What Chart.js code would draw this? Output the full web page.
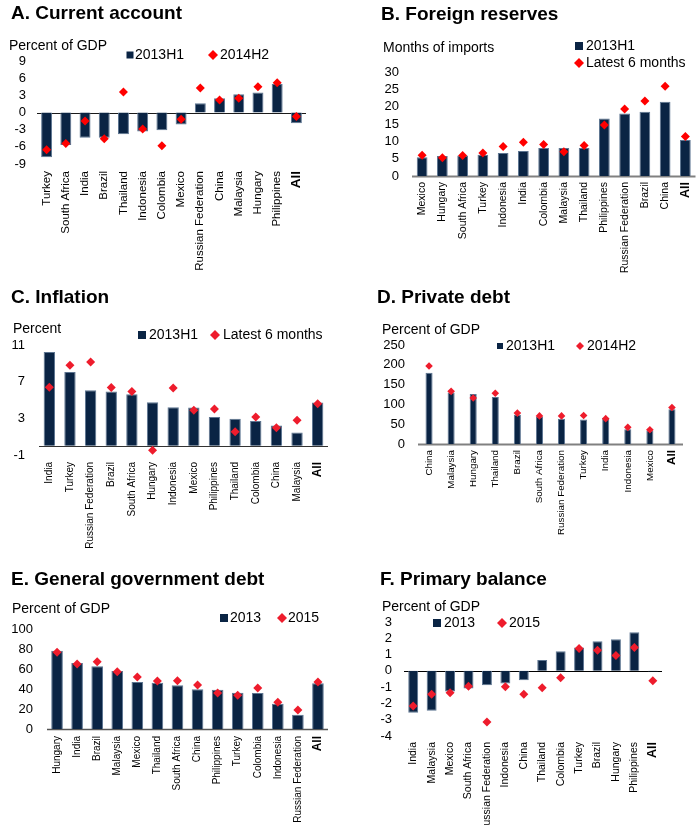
<!DOCTYPE html>
<html><head><meta charset="utf-8">
<script src="https://cdn.jsdelivr.net/npm/chart.js@4.4.1/dist/chart.umd.min.js"></script>
<style>
html,body{margin:0;padding:0;background:#fff;}
#wrap{position:relative;width:700px;height:826px;overflow:hidden;background:#fff;}
#wrap canvas{position:absolute;}
</style></head><body><div id="wrap">
<canvas id="cA" width="350" height="280" style="left:0;top:0"></canvas>
<canvas id="cB" width="350" height="280" style="left:350px;top:0"></canvas>
<canvas id="cC" width="350" height="280" style="left:0;top:280px"></canvas>
<canvas id="cD" width="350" height="280" style="left:350px;top:280px"></canvas>
<canvas id="cE" width="350" height="266" style="left:0;top:560px"></canvas>
<canvas id="cF" width="350" height="266" style="left:350px;top:560px"></canvas>
</div>
<script>
// ---------- DATA ----------
const catsA = ['Turkey','South Africa','India','Brazil','Thailand','Indonesia','Colombia','Mexico','Russian Federation','China','Malaysia','Hungary','Philippines','All'];
const barA  = [-7.8,-5.7,-4.4,-4.4,-3.8,-3.3,-3.1,-2.1,1.6,2.5,3.2,3.5,5.0,-1.9];
const dotA  = [-6.5,-5.4,-1.5,-4.6,3.6,-2.9,-5.8,-1.2,4.3,2.2,2.5,4.5,5.2,-0.7];
const seriesA = ['2013H1','2014H2'];

const catsB = ['Mexico','Hungary','South Africa','Turkey','Indonesia','India','Colombia','Malaysia','Thailand','Philippines','Russian Federation','Brazil','China','All'];
const barB  = [5.4,5.8,5.9,6.1,6.6,7.2,8.1,8.1,8.1,16.6,18.0,18.5,21.4,10.4];
const dotB  = [6.0,5.3,5.9,6.6,8.5,9.7,9.1,7.0,8.8,14.7,19.3,21.6,25.9,11.4];
const seriesB = ['2013H1','Latest 6 months'];

const catsC = ['India','Turkey','Russian Federation','Brazil','South Africa','Hungary','Indonesia','Mexico','Philippines','Thailand','Colombia','China','Malaysia','All'];
const barC  = [10.25,8.05,6.07,5.93,5.63,4.76,4.2,4.17,3.15,2.96,2.7,2.23,1.46,4.72];
const dotC  = [6.4,8.8,9.15,6.37,5.93,-0.48,6.3,3.88,4.02,1.54,3.15,1.98,2.78,4.6];
const seriesC = ['2013H1','Latest 6 months'];

const catsD = ['China','Malaysia','Hungary','Thailand','Brazil','South Africa','Russian Federation','Turkey','India','Indonesia','Mexico','All'];
const barD  = [180,130,126,119,74,69,64,62,66,37,34,88];
const dotD  = [197,133,116,128,78,71,71,72,64,42,36,92];
const seriesD = ['2013H1','2014H2'];

const catsE = ['Hungary','India','Brazil','Malaysia','Mexico','Thailand','South Africa','China','Philippines','Turkey','Colombia','Indonesia','Russian Federation','All'];
const barE  = [78.3,66,62.7,58,47,46.3,43.7,39.7,39.3,36.3,36,25.3,14.3,45.7];
const dotE  = [76.7,65,67.3,57.3,52,48,48.3,44,36,33.7,41,26.7,19,47];
const seriesE = ['2013','2015'];

const catsF = ['India','Malaysia','Mexico','South Africa','Russian Federation','Indonesia','China','Thailand','Colombia','Turkey','Brazil','Hungary','Philippines','All'];
const barF  = [-2.57,-2.45,-1.27,-1.08,-0.88,-0.78,-0.57,0.67,1.2,1.43,1.82,1.94,2.37,-0.04];
const dotF  = [-2.16,-1.43,-1.35,-0.94,-3.14,-0.98,-1.43,-1.04,-0.43,1.37,1.27,0.94,1.43,-0.61];
const seriesF = ['2013','2015'];

// ---------- STYLE ----------
const FONT = '"Liberation Sans", Arial, Helvetica, sans-serif';
const NAVY = '#0a2444';
const NAVY_EDGE = '#5d7591';

const decor = {
  id: 'decor',
  afterDraw(chart, args, o) {
    if (!o || !o.title) return;
    const ctx = chart.ctx;
    ctx.save();
    ctx.fillStyle = '#000';
    ctx.textBaseline = 'middle';
    ctx.textAlign = 'left';
    ctx.font = 'bold 19px ' + FONT;
    ctx.fillText(o.title, o.tx, o.ty);
    ctx.font = '14px ' + FONT;
    ctx.fillText(o.unit, o.ux, o.uy);
    const ds = chart.data.datasets;
    o.legend.forEach((it, i) => {
      const d = ds[i];
      if (d.type === 'line') {
        const r = it.r || 5;
        ctx.fillStyle = d.backgroundColor;
        ctx.beginPath();
        ctx.moveTo(it.x, it.y - r); ctx.lineTo(it.x + r, it.y);
        ctx.lineTo(it.x, it.y + r); ctx.lineTo(it.x - r, it.y);
        ctx.closePath(); ctx.fill();
      } else {
        const s = it.s || 8;
        ctx.fillStyle = NAVY;
        ctx.fillRect(it.x - s / 2, it.y - s / 2, s, s);
      }
      ctx.fillStyle = '#000';
      ctx.font = '14px ' + FONT;
      ctx.fillText(d.label, it.tx, it.y);
    });
    ctx.restore();
  }
};
const zeroLine = {
  id: 'zeroLine',
  beforeDatasetsDraw(chart, args, o) {
    const y = chart.scales.y;
    const a = chart.chartArea;
    const py = Math.round(y.getPixelForValue(0)) + 0.5;
    const ctx = chart.ctx;
    ctx.save();
    ctx.strokeStyle = o.color || '#000';
    ctx.lineWidth = o.width || 1;
    ctx.beginPath();
    ctx.moveTo(a.left, py); ctx.lineTo(a.right, py);
    ctx.stroke();
    ctx.restore();
  }
};

function makePanel(p) {
  const xs = p.xs;
  new Chart(document.getElementById(p.id), {
    data: {
      labels: p.cats,
      datasets: [
        { type: 'bar', label: p.series[0], data: p.bars, backgroundColor: NAVY,
          borderColor: NAVY_EDGE, borderWidth: 1, barPercentage: p.bp, categoryPercentage: 1, order: 2 },
        { type: 'line', label: p.series[1], data: p.dots, showLine: false, pointStyle: 'rectRot',
          pointRadius: p.pr, backgroundColor: p.red, borderColor: p.red, pointBorderWidth: 0, order: 1 }
      ]
    },
    options: {
      responsive: false, animation: false, devicePixelRatio: 1,
      layout: { padding: p.pad },
      plugins: {
        legend: { display: false }, tooltip: { enabled: false }, title: { display: false },
        decor: p.decor,
        zeroLine: { color: p.axisColor, width: p.axisW }
      },
      scales: {
        x: {
          grid: { display: false, drawTicks: false }, border: { display: false },
          ticks: {
            autoSkip: false, minRotation: 90, maxRotation: 90, padding: p.xp, color: '#000',
            font: (c) => (c.tick && c.tick.label === 'All')
              ? { family: FONT, size: xs + 2, weight: 'bold' }
              : { family: FONT, size: xs }
          },
          afterFit: (s) => { s.height = p.xh; s.paddingLeft = 0; s.paddingRight = 0; }
        },
        y: {
          min: p.min, max: p.max,
          grid: { display: false, drawTicks: false }, border: { display: false },
          ticks: { stepSize: p.step, autoSkip: false, padding: p.yp, color: '#000', font: { family: FONT, size: 13 } },
          afterFit: (s) => { s.width = p.yw; s.paddingTop = 0; s.paddingBottom = 0; }
        }
      }
    },
    plugins: [decor, zeroLine]
  });
}

makePanel({ id: 'cA', cats: catsA, bars: barA, dots: dotA, series: seriesA,
  min: -9, max: 9, step: 3, bp: 0.57, pr: 4.5, red: '#ff0000',
  yw: 30, pad: { left: 7, right: 44, top: 61, bottom: 0 }, xh: 116, xp: 7, yp: 11,
  xs: 11.5, axisColor: '#1a1a1a', axisW: 1,
  decor: { title: 'A. Current account', tx: 11, ty: 14, unit: 'Percent of GDP', ux: 9, uy: 46,
    legend: [{ x: 130, y: 55, tx: 135, s: 7 }, { x: 213, y: 55, tx: 220 }] } });

makePanel({ id: 'cB', cats: catsB, bars: barB, dots: dotB, series: seriesB,
  min: 0, max: 30, step: 5, bp: 0.53, pr: 4.5, red: '#ff0000',
  yw: 40, pad: { left: 22, right: 0, top: 72, bottom: 0 }, xh: 104, xp: 6, yp: 13,
  xs: 10.5, axisColor: '#808080', axisW: 2,
  decor: { title: 'B. Foreign reserves', tx: 31, ty: 15, unit: 'Months of imports', ux: 33, uy: 48,
    legend: [{ x: 229, y: 46, tx: 236 }, { x: 229, y: 63, tx: 236 }] } });

makePanel({ id: 'cC', cats: catsC, bars: barC, dots: dotC, series: seriesC,
  min: -1, max: 11, step: 4, bp: 0.55, pr: 4.5, red: '#ee1c2c',
  yw: 30, pad: { left: 9, right: 22, top: 65, bottom: 0 }, xh: 105, xp: 7, yp: 14,
  xs: 10, axisColor: '#333333', axisW: 1,
  decor: { title: 'C. Inflation', tx: 11, ty: 18, unit: 'Percent', ux: 13, uy: 49,
    legend: [{ x: 142, y: 55, tx: 149 }, { x: 215, y: 55, tx: 223 }] } });

makePanel({ id: 'cD', cats: catsD, bars: barD, dots: dotD, series: seriesD,
  min: 0, max: 250, step: 50, bp: 0.32, pr: 3.8, red: '#ee1c2c',
  yw: 45, pad: { left: 23, right: 17, top: 65, bottom: 0 }, xh: 116, xp: 6, yp: 13,
  xs: 9.8, axisColor: '#808080', axisW: 2,
  decor: { title: 'D. Private debt', tx: 27, ty: 18, unit: 'Percent of GDP', ux: 32, uy: 50,
    legend: [{ x: 150, y: 66, tx: 156, s: 6 }, { x: 230, y: 66, tx: 237, r: 4 }] } });

makePanel({ id: 'cE', cats: catsE, bars: barE, dots: dotE, series: seriesE,
  min: 0, max: 100, step: 20, bp: 0.58, pr: 4.5, red: '#ee1c2c',
  yw: 45, pad: { left: 2, right: 22, top: 69, bottom: 0 }, xh: 97, xp: 7, yp: 14,
  xs: 10, axisColor: '#555555', axisW: 1.5,
  decor: { title: 'E. General government debt', tx: 11, ty: 20, unit: 'Percent of GDP', ux: 12, uy: 49,
    legend: [{ x: 224, y: 58, tx: 230 }, { x: 282, y: 58, tx: 288 }] } });

makePanel({ id: 'cF', cats: catsF, bars: barF, dots: dotF, series: seriesF,
  min: -4, max: 3, step: 1, bp: 0.54, pr: 4.5, red: '#ee1c2c',
  yw: 40, pad: { left: 14, right: 38, top: 62, bottom: 0 }, xh: 90, xp: 6, yp: 12,
  xs: 10.5, axisColor: '#000000', axisW: 1,
  decor: { title: 'F. Primary balance', tx: 30, ty: 20, unit: 'Percent of GDP', ux: 32, uy: 47,
    legend: [{ x: 87, y: 63, tx: 94 }, { x: 152, y: 63, tx: 159 }] } });
</script>
</body></html>
